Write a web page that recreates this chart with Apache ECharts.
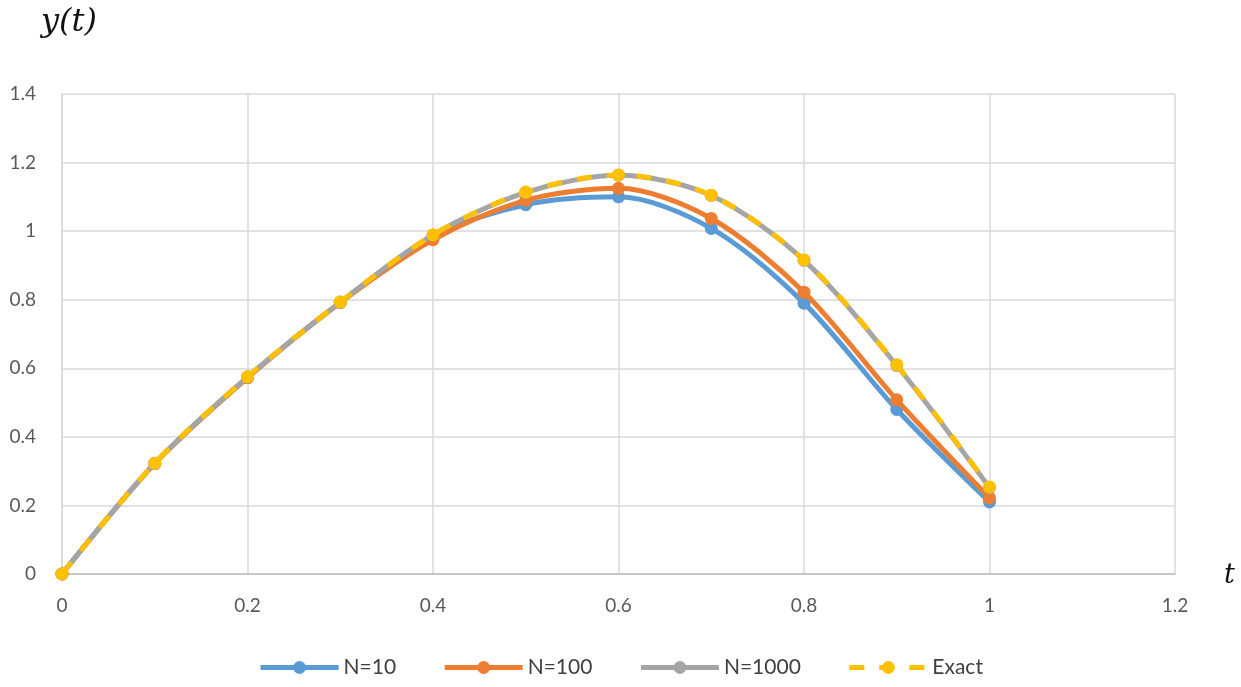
<!DOCTYPE html>
<html>
<head>
<meta charset="utf-8">
<script src="https://cdn.jsdelivr.net/npm/echarts@6/dist/echarts.min.js"></script>
<style>
  html,body{margin:0;padding:0;background:#fff;}
  #main{width:1241px;height:687px;}
</style>
</head>
<body>
<div id="main"></div>
<script>
  // t values and the four solutions
  const tValues = [0, 0.1, 0.2, 0.3, 0.4, 0.5, 0.6, 0.7, 0.8, 0.9, 1];
  const yN10 = [0, 0.322, 0.573, 0.792, 0.985, 1.077, 1.100, 1.008, 0.790, 0.480, 0.210];
  const yN100 = [0, 0.322, 0.573, 0.792, 0.975, 1.090, 1.125, 1.037, 0.822, 0.508, 0.222];
  const yN1000 = [0, 0.323, 0.575, 0.793, 0.989, 1.113, 1.163, 1.104, 0.915, 0.608, 0.252];
  const yExact = [0, 0.323, 0.575, 0.793, 0.989, 1.114, 1.164, 1.105, 0.916, 0.610, 0.254];

  const names = ['N=10', 'N=100', 'N=1000', 'Exact'];
  const colors = ['#5B9BD5', '#ED7D31', '#A5A5A5', '#FFC000'];

  function pairs(ys){
    return tValues.map(function(t, i){ return [t, ys[i]]; });
  }

  const labelFont = {color:'#595959', fontSize:19, fontFamily:'Lato'};

  let myChart = echarts.init(document.getElementById('main'));
  let series = [yN10, yN100, yN1000, yExact].map(function(ys, i){
    return {
      name: names[i],
      type: 'line',
      data: pairs(ys),
      smooth: 0.3,
      symbol: 'circle',
      symbolSize: 13,
      itemStyle: {color: colors[i]},
      lineStyle: {
        width: 5,
        color: colors[i],
        type: i === 3 ? [15, 15] : 'solid'
      },
      z: 2 + i
    };
  });

  let option = {
    animation: false,
    grid: {left: 62, right: 66, top: 94, bottom: 113},
    title: [
      {text: 'y(t)', left: 36, top: 2,
        textStyle: {fontFamily: 'DejaVu Serif', fontStyle: 'italic', fontWeight: 'normal', fontSize: 32, color: '#111'}},
      {text: 't', left: 1219, top: 557,
        textStyle: {fontFamily: 'DejaVu Serif', fontStyle: 'italic', fontWeight: 'normal', fontSize: 27, color: '#111'}}
    ],
    legend: {
      bottom: 4,
      left: 'center',
      itemWidth: 78,
      itemHeight: 16,
      itemGap: 46,
      lineStyle: {width: 5},
      textStyle: {color: '#404040', fontSize: 21, fontFamily: 'Lato'},
      data: names
    },
    xAxis: {
      type: 'value',
      min: 0,
      max: 1.2,
      interval: 0.2,
      axisLine: {lineStyle: {color: '#bfbfbf', width: 1.5}},
      axisTick: {show: false},
      axisLabel: Object.assign({margin: 22}, labelFont),
      splitLine: {lineStyle: {color: '#d9d9d9', width: 1.5}}
    },
    yAxis: {
      type: 'value',
      min: 0,
      max: 1.4,
      interval: 0.2,
      axisLine: {show: true, lineStyle: {color: '#d9d9d9', width: 1.5}},
      axisTick: {show: false},
      axisLabel: Object.assign({margin: 26}, labelFont),
      splitLine: {lineStyle: {color: '#d9d9d9', width: 1.5}}
    },
    series: series
  };
  myChart.setOption(option);
</script>
</body>
</html>
